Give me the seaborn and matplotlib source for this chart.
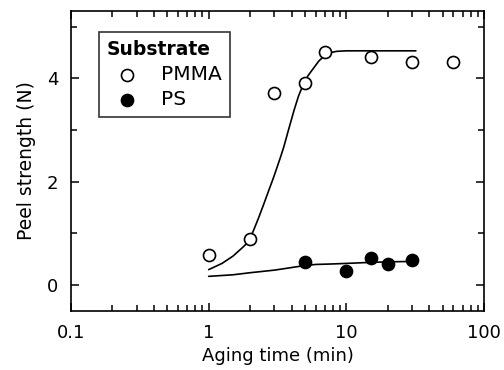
import numpy as np
import pandas as pd
import matplotlib
matplotlib.use("Agg")
import matplotlib.pyplot as plt
import seaborn as sns
from matplotlib.ticker import LogLocator, NullFormatter, FixedLocator

PMMA_TIME = [1, 2, 3, 5, 7, 15, 30, 60]
PMMA_PEEL = [0.58, 0.90, 3.72, 3.91, 4.51, 4.41, 4.32, 4.32]

PS_TIME = [5, 10, 15, 20, 30]
PS_PEEL = [0.44, 0.28, 0.52, 0.40, 0.48]

# Fit curves
PMMA_FIT_TIME = [1, 1.25, 1.5, 1.75, 1.9, 2, 2.15, 2.32, 2.5, 2.74, 2.95, 3.15, 3.35, 3.52,
                 3.8, 4.17, 4.5, 4.9, 5.3, 5.8, 6.3, 6.9, 7.5, 8.5, 10, 15, 32]
PMMA_FIT_PEEL = [0.30, 0.42, 0.56, 0.72, 0.81, 0.90, 1.10, 1.32, 1.55, 1.84, 2.07, 2.29, 2.50, 2.68,
                 3.00, 3.38, 3.66, 3.90, 4.06, 4.20, 4.33, 4.43, 4.49, 4.52, 4.53, 4.53, 4.53]

PS_FIT_TIME = [1, 1.5, 2, 3, 4, 5, 6, 8, 10, 15, 20, 32]
PS_FIT_PEEL = [0.17, 0.20, 0.24, 0.29, 0.34, 0.38, 0.40, 0.41, 0.42, 0.44, 0.45, 0.46]

sns.set_style("ticks")
plt.rcParams['font.family'] = ['DejaVu Sans']
plt.rcParams['text.color'] = 'black'
plt.rcParams['axes.labelcolor'] = 'black'
plt.rcParams['xtick.direction'] = 'in'
plt.rcParams['ytick.direction'] = 'in'
plt.rcParams['xtick.top'] = True
plt.rcParams['ytick.right'] = True

fig = plt.figure(figsize=(5.04, 3.70), dpi=100)
ax = fig.add_axes([71 / 504, 1 - 311 / 370, 413 / 504, 300 / 370])

points = pd.concat([
    pd.DataFrame({'time': PMMA_TIME, 'peel': PMMA_PEEL, 'substrate': 'PMMA'}),
    pd.DataFrame({'time': PS_TIME, 'peel': PS_PEEL, 'substrate': 'PS'}),
])

sns.lineplot(x=PMMA_FIT_TIME, y=PMMA_FIT_PEEL, color='black', lw=1.2, ax=ax)
sns.lineplot(x=PS_FIT_TIME, y=PS_FIT_PEEL, color='black', lw=1.2, ax=ax)

for sub, face in [('PMMA', 'white'), ('PS', 'black')]:
    d = points[points['substrate'] == sub]
    sns.scatterplot(data=d, x='time', y='peel', s=75, facecolor=face,
                    edgecolor='black', linewidth=1.2, label=sub, ax=ax, zorder=3)

ax.set_xscale('log')
ax.set_xlim(0.1, 100)
ax.set_ylim(-0.5, 5.3)
ax.set_xticks([0.1, 1, 10, 100])
ax.set_xticklabels(['0.1', '1', '10', '100'])
ax.xaxis.set_minor_locator(LogLocator(base=10, subs=np.arange(2, 10)))
ax.xaxis.set_minor_formatter(NullFormatter())
ax.set_yticks([0, 2, 4])
ax.yaxis.set_minor_locator(FixedLocator([1, 3, 5]))

ax.tick_params(which='both', direction='in', top=True, right=True, color='black',
               labelsize=13, labelcolor='black', width=1.1)
ax.tick_params(which='major', length=6, pad=9)
ax.tick_params(which='minor', length=4)
for sp in ax.spines.values():
    sp.set_color('black')
    sp.set_linewidth(1.2)

ax.set_xlabel('Aging time (min)', fontsize=13, labelpad=4)
ax.set_ylabel('Peel strength (N)', fontsize=13.5, labelpad=8)

leg = ax.legend(title='Substrate', loc='upper left', bbox_to_anchor=(28 / 413, 0.93),
                fontsize=14.5, title_fontsize=13.5, frameon=True, fancybox=False,
                edgecolor='black', handletextpad=0.7, borderpad=0.4,
                labelspacing=0.3, handlelength=2.0, borderaxespad=0)
leg.get_title().set_fontweight('bold')
leg._legend_box.align = 'left'
leg.get_frame().set_linewidth(1.2)

fig.savefig('out.png', dpi=100)
